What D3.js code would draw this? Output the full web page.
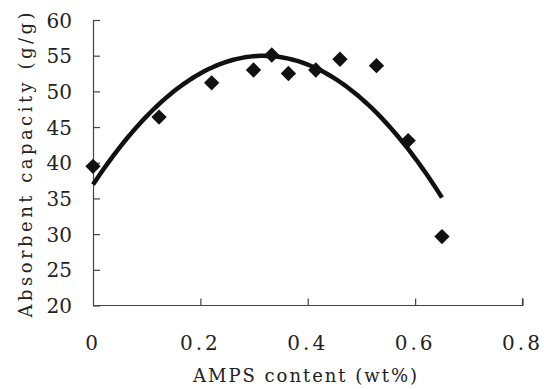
<html>
<head>
<meta charset="UTF-8">
<title>Absorbent capacity vs AMPS content</title>
<script src="https://d3js.org/d3.v7.min.js"></script>
<style>
html,body{margin:0;padding:0;background:#fff;}
svg text{font-family:"DejaVu Serif",serif;fill:#222;}
</style>
</head>
<body>
<div id="container"></div>
<script>
// AMPS content (wt%) and measured absorbency (g/g)
const amps = [0, 0.123, 0.221, 0.299, 0.333, 0.364, 0.415, 0.460, 0.528, 0.587, 0.650];
const absorb = [39.5, 46.4, 51.2, 53.0, 55.1, 52.5, 53.0, 54.5, 53.6, 43.1, 29.65];
const xTicks = [0, 0.2, 0.4, 0.6, 0.8];
const yTicks = [20, 25, 30, 35, 40, 45, 50, 55, 60];

const width = 544, height = 389;

const svg = d3.select("#container").append("svg")
    .attr("width", width).attr("height", height);

const x = d3.scaleLinear().domain([0, 0.8]).range([93, 522.5]);
const y = d3.scaleLinear().domain([20, 60]).range([305.5, 20]);

// y axis: ticks point inward
const yAxis = svg.append("g").attr("transform", "translate(93,0)")
    .call(d3.axisRight(y).tickValues(yTicks).tickSize(7).tickFormat(""));
yAxis.select(".domain").attr("d", "M7,20.5H0.5V305.5");
yAxis.selectAll("line, path").attr("stroke", "#444").attr("stroke-width", 1.2);

svg.append("g").selectAll("text").data(yTicks).join("text")
    .attr("x", 72).attr("y", d => y(d) + 7.5)
    .attr("text-anchor", "end")
    .attr("font-size", 20)
    .text(d => d);

// x axis: ticks point up
const xAxis = svg.append("g").attr("transform", "translate(0,305.5)")
    .call(d3.axisTop(x).tickValues(xTicks.slice(1)).tickSize(7).tickFormat(""));
xAxis.select(".domain").attr("d", "M93,0H522.5V-7");
xAxis.selectAll("line, path").attr("stroke", "#444").attr("stroke-width", 1.2);

svg.append("g").selectAll("text").data(xTicks).join("text")
    .attr("x", d => x(d)).attr("y", 350)
    .attr("text-anchor", "middle")
    .attr("font-size", 20).attr("letter-spacing", 3)
    .text(d => d === 0 ? "0" : d3.format(".1f")(d));

// quadratic least-squares trend line
function polyFit2(xs, ys) {
  const S = [0, 0, 0, 0, 0], T = [0, 0, 0];
  xs.forEach((xv, i) => {
    for (let k = 0; k < 5; k++) S[k] += Math.pow(xv, k);
    for (let k = 0; k < 3; k++) T[k] += ys[i] * Math.pow(xv, k);
  });
  const A = [[S[0], S[1], S[2], T[0]], [S[1], S[2], S[3], T[1]], [S[2], S[3], S[4], T[2]]];
  for (let c = 0; c < 3; c++) {
    for (let r = c + 1; r < 3; r++) {
      const f = A[r][c] / A[c][c];
      for (let k = c; k < 4; k++) A[r][k] -= f * A[c][k];
    }
  }
  const co = [0, 0, 0];
  for (let r = 2; r >= 0; r--) {
    let s = A[r][3];
    for (let k = r + 1; k < 3; k++) s -= A[r][k] * co[k];
    co[r] = s / A[r][r];
  }
  return co;
}
const coef = polyFit2(amps, absorb);
const xMax = d3.max(amps);
const fitPts = d3.range(0, 101).map(i => {
  const xv = xMax * i / 100;
  return [xv, coef[0] + coef[1] * xv + coef[2] * xv * xv];
});
svg.append("path").datum(fitPts)
    .attr("d", d3.line().x(d => x(d[0])).y(d => y(d[1])))
    .attr("fill", "none").attr("stroke", "#111").attr("stroke-width", 4.5);

// diamonds
svg.append("g").selectAll("path").data(amps).join("path")
    .attr("transform", (d, i) => `translate(${x(d)},${y(absorb[i])})`)
    .attr("d", d3.symbol(d3.symbolDiamond2, 150))
    .attr("fill", "#111");

// axis titles
svg.append("text")
    .attr("x", 305).attr("y", 382)
    .attr("text-anchor", "middle")
    .attr("textLength", 224).attr("lengthAdjust", "spacing")
    .attr("font-size", 18)
    .text("AMPS content (wt%)");

svg.append("text")
    .attr("transform", "translate(32,165) rotate(-90)")
    .attr("text-anchor", "middle")
    .attr("textLength", 305).attr("lengthAdjust", "spacing")
    .attr("font-size", 18)
    .text("Absorbent capacity (g/g)");
</script>
</body>
</html>
